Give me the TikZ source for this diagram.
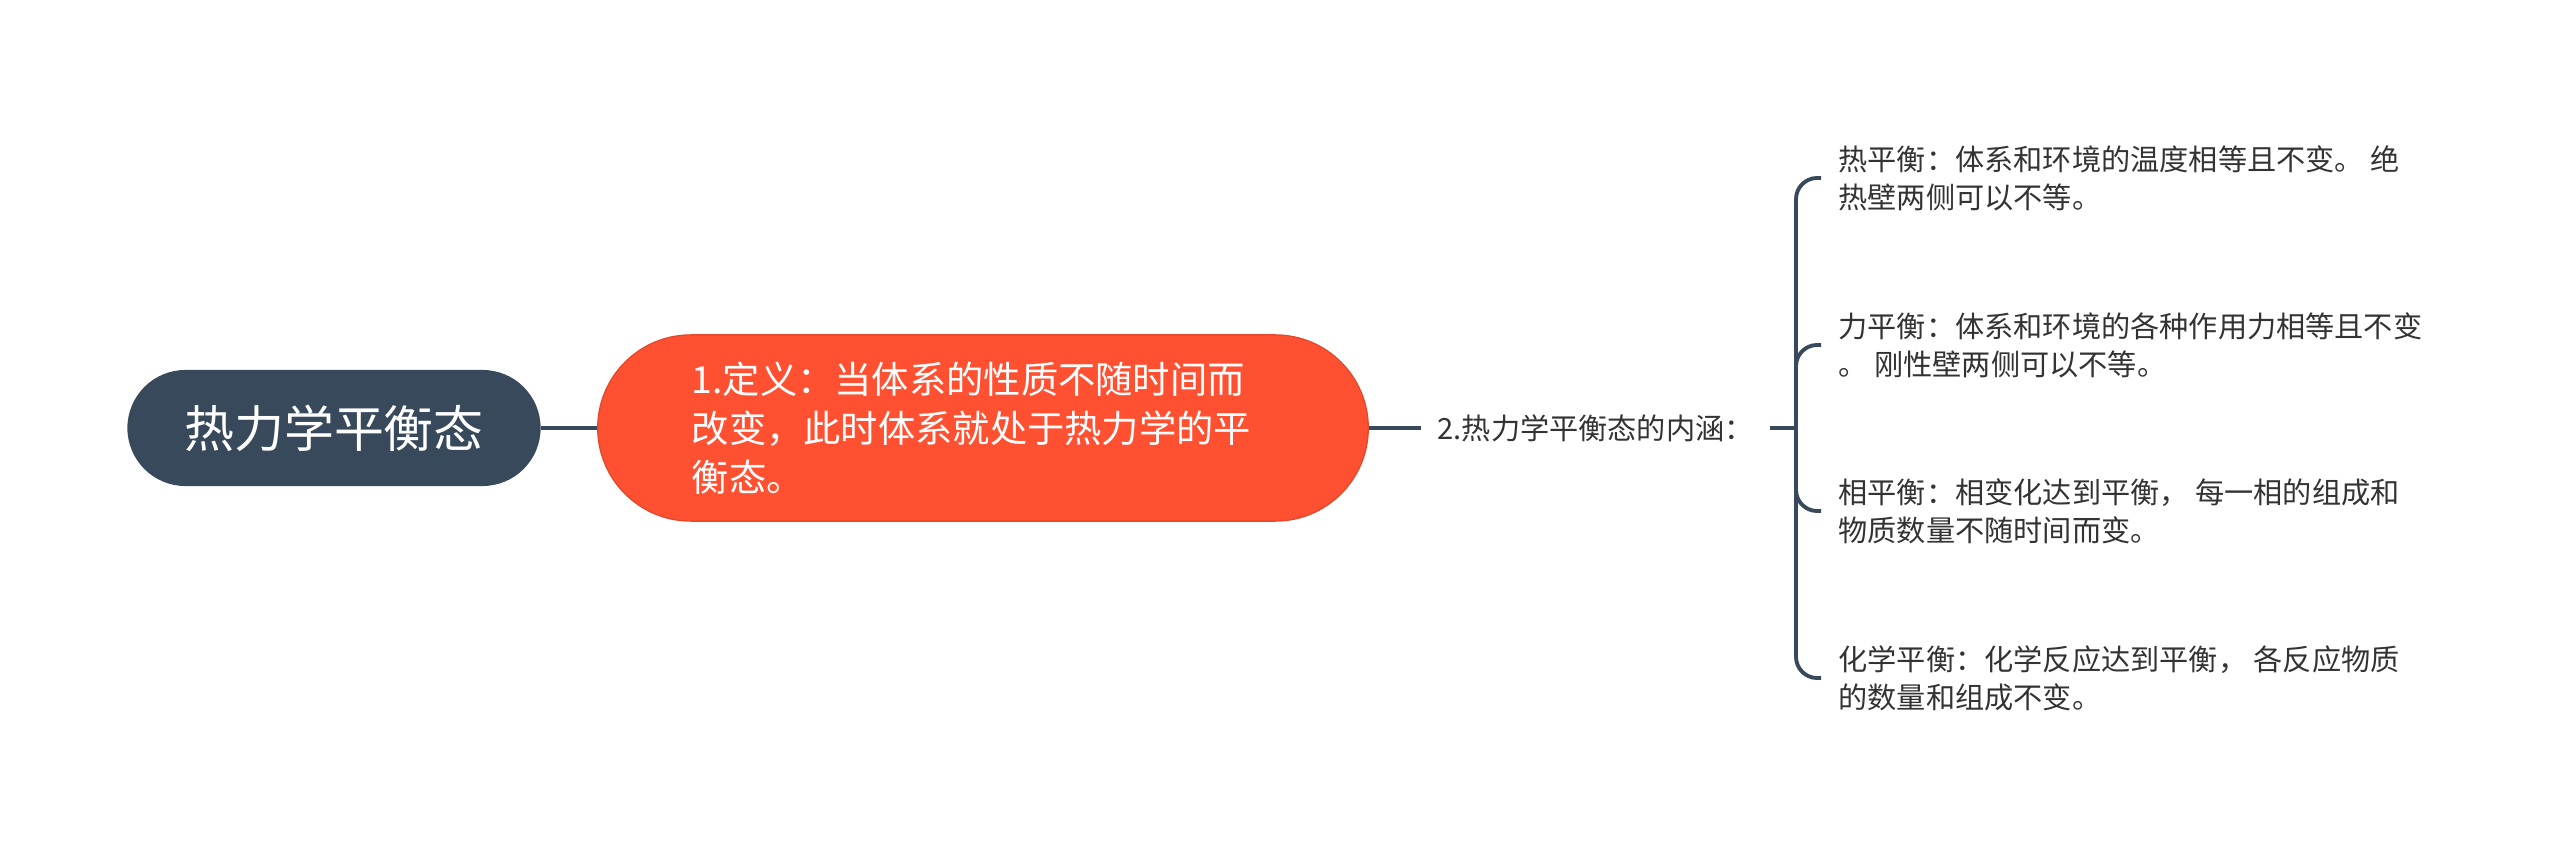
\documentclass[tikz,border=0pt]{standalone}
\usepackage{fontspec}
\setmainfont{Noto Sans CJK SC}
\usetikzlibrary{positioning}
\definecolor{rootblue}{HTML}{37495B}
\definecolor{deforange}{HTML}{FF5131}
\definecolor{leafgray}{HTML}{333333}

\tikzset{
  rootbox/.style={fill=rootblue, text=white, rounded corners=0.58cm, minimum width=4.13cm, minimum height=1.16cm, font=\fontsize{14.2}{18}\selectfont},
  defbox/.style={fill=deforange, draw=deforange!90!black, rounded corners=0.93cm, minimum width=7.7cm, minimum height=1.86cm, text width=5.82cm, text=white, align=left, font=\fontsize{10.6}{13.9}\selectfont},
  sublabel/.style={anchor=west, text=leafgray, inner xsep=4.5pt, font=\fontsize{8.3}{10.8}\selectfont},
  leaf/.style={anchor=west, text=leafgray, align=left, inner xsep=4.8pt, font=\fontsize{8.3}{10.8}\selectfont},
  link/.style={draw=rootblue, line width=1.1pt},
}

\begin{document}
\begin{tikzpicture}[x=0.01cm, y=-0.01cm]
	\useasboundingbox (0,0) rectangle (2560,855);
	
	\node [rootbox] (root) at (334,428) {热力学平衡态};
	\node [defbox] (def) at (983,428) {1.定义：当体系的性质不随时间而\\改变，此时体系就处于热力学的平\\衡态。};
	\node [sublabel] (inner) at (1421,428) {2.热力学平衡态的内涵：};
	\coordinate (fork) at (1796,428);
	
	\node [leaf] (thermal) at (1821,178) {热平衡：体系和环境的温度相等且不变。 绝\\热壁两侧可以不等。};
	\node [leaf] (mech) at (1821,345) {力平衡：体系和环境的各种作用力相等且不变\\。 刚性壁两侧可以不等。};
	\node [leaf] (phase) at (1821,511) {相平衡：相变化达到平衡， 每一相的组成和\\物质数量不随时间而变。};
	\node [leaf] (chem) at (1821,678) {化学平衡：化学反应达到平衡， 各反应物质\\的数量和组成不变。};
	
	\draw [link] (root) -- (def);
	\draw [link] (def) -- (inner);
	\draw [link] (inner) -- (fork);
	\foreach \n in {thermal,mech,phase,chem}
		\draw [link, rounded corners=6pt] (fork) |- (\n.west);
	
\end{tikzpicture}
\end{document}
